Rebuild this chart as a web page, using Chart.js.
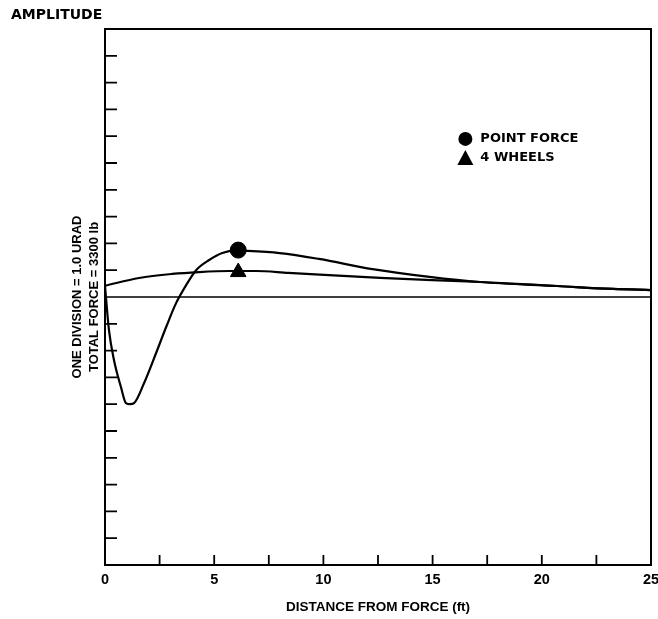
<!DOCTYPE html>
<html>
<head>
<meta charset="utf-8">
<script src="https://cdn.jsdelivr.net/npm/chart.js@4.4.1/dist/chart.umd.min.js"></script>
<style>
  html, body { margin: 0; padding: 0; background: #fff; }
  canvas { display: block; }
</style>
</head>
<body>
<canvas id="grafico" width="658" height="619"></canvas>
<script>
// valores (x em ft, y em divisões de 1.0 urad)
const distPontual = [0, 0.18, 0.41, 0.73, 0.96, 1.15, 1.33, 1.79, 2.34, 2.8, 3.26, 3.72, 4.17, 4.77, 5.37, 6.0, 6.5, 8.0, 9.8, 12.25, 14.86, 17.16, 20.7, 23.26, 25];
const ampPontual = [0.42, -1.23, -2.35, -3.36, -3.96, -4.0, -3.96, -3.21, -2.09, -1.12, -0.22, 0.45, 1.0, 1.38, 1.64, 1.73, 1.72, 1.64, 1.42, 1.04, 0.75, 0.56, 0.41, 0.3, 0.26];

const distRodas = [0, 1.56, 3.07, 4.3, 5.7, 6.9, 8.4, 12.6, 17.2, 20.7, 23.26, 25];
const ampRodas = [0.42, 0.71, 0.86, 0.93, 0.97, 0.97, 0.9, 0.71, 0.56, 0.41, 0.3, 0.26];

const marcadorPontual = { x: 6.1, y: 1.75 };
const marcadorRodas = { x: 6.1, y: 0.93 };

const xTicks = [0, 2.5, 5, 7.5, 10, 12.5, 15, 17.5, 20, 22.5, 25];
const xLabels = ['0', '', '5', '', '10', '', '15', '', '20', '', '25'];

const FONTE = "'Liberation Sans', Arial, sans-serif";
const FONTE_LARGA = "'DejaVu Sans', sans-serif";

function pares(xs, ys) {
    return xs.map((x, i) => ({ x: x, y: ys[i] }));
}

// moldura (topo e direita) + ticks internos
const moldura = {
    id: 'moldura',
    afterDraw(chart) {
        const { ctx, chartArea: a, scales } = chart;
        ctx.save();
        ctx.strokeStyle = '#000';
        ctx.lineWidth = 2;
        ctx.beginPath();
        ctx.moveTo(a.left, a.top);
        ctx.lineTo(a.right, a.top);
        ctx.lineTo(a.right, a.bottom);
        ctx.stroke();

        ctx.lineWidth = 1.8;
        ctx.beginPath();
        scales.x.ticks.forEach(t => {
            const px = scales.x.getPixelForValue(t.value);
            if (px <= a.left + 1 || px >= a.right - 1) return;
            ctx.moveTo(px, a.bottom);
            ctx.lineTo(px, a.bottom - 10);
        });
        scales.y.ticks.forEach(t => {
            const py = scales.y.getPixelForValue(t.value);
            if (py <= a.top + 1 || py >= a.bottom - 1 || t.value === 0) return;
            ctx.moveTo(a.left, py);
            ctx.lineTo(a.left + 12, py);
        });
        ctx.stroke();

        // rótulo AMPLITUDE
        ctx.fillStyle = '#000';
        ctx.font = "bold 14px " + FONTE_LARGA;
        ctx.textBaseline = 'middle';
        ctx.textAlign = 'left';
        ctx.fillText('AMPLITUDE', 11, 15);

        // legenda dentro do gráfico
        const itens = chart.data.datasets.filter(d => d.legenda);
        const lx = scales.x.getPixelForValue(16.5);
        let ly = scales.y.getPixelForValue(5.9);
        ctx.font = "bold 13px " + FONTE_LARGA;
        itens.forEach(d => {
            ctx.beginPath();
            if (d.pointStyle === 'triangle') {
                ctx.moveTo(lx, ly - 8);
                ctx.lineTo(lx + 8, ly + 7);
                ctx.lineTo(lx - 8, ly + 7);
                ctx.closePath();
            } else {
                ctx.arc(lx, ly, 7, 0, Math.PI * 2);
            }
            ctx.fill();
            ctx.fillText(d.label, lx + 15, ly);
            ly += 19;
        });
        ctx.restore();
    }
};

new Chart(document.getElementById('grafico'), {
    type: 'scatter',
    data: {
        datasets: [
            {
                label: 'zero',
                data: [{ x: 0, y: 0 }, { x: 25, y: 0 }],
                showLine: true,
                borderColor: '#000',
                borderWidth: 1.5,
                pointRadius: 0
            },
            {
                label: 'curva pontual',
                data: pares(distPontual, ampPontual),
                showLine: true,
                borderColor: '#000',
                borderWidth: 2.2,
                pointRadius: 0,
                cubicInterpolationMode: 'monotone'
            },
            {
                label: 'curva rodas',
                data: pares(distRodas, ampRodas),
                showLine: true,
                borderColor: '#000',
                borderWidth: 2.2,
                pointRadius: 0,
                cubicInterpolationMode: 'monotone'
            },
            {
                label: 'POINT FORCE',
                legenda: true,
                data: [marcadorPontual],
                pointStyle: 'circle',
                pointRadius: 8,
                backgroundColor: '#000',
                borderColor: '#000'
            },
            {
                label: '4 WHEELS',
                legenda: true,
                data: [marcadorRodas],
                pointStyle: 'triangle',
                pointRadius: 9,
                backgroundColor: '#000',
                borderColor: '#000'
            }
        ]
    },
    options: {
        responsive: false,
        animation: false,
        layout: { autoPadding: false, padding: { left: 0, top: 29, right: 7, bottom: 0 } },
        plugins: {
            legend: { display: false },
            tooltip: { enabled: false }
        },
        scales: {
            x: {
                type: 'linear',
                min: 0,
                max: 25,
                afterBuildTicks: s => { s.ticks = xTicks.map(v => ({ value: v })); },
                afterFit: s => { s.height = 54; s.paddingLeft = 0; s.paddingRight = 0; },
                grid: { display: false, drawTicks: false },
                border: { display: true, color: '#000', width: 2 },
                ticks: {
                    color: '#000',
                    padding: 6,
                    maxRotation: 0,
                    autoSkip: false,
                    font: { family: FONTE, size: 14.5, weight: 'bold' },
                    callback: (v, i) => xLabels[i]
                },
                title: {
                    display: true,
                    text: 'DISTANCE FROM FORCE (ft)',
                    color: '#000',
                    font: { family: FONTE, size: 13.5, weight: 'bold' },
                    padding: { top: 0, bottom: 4 }
                }
            },
            y: {
                type: 'linear',
                min: -10,
                max: 10,
                afterFit: s => { s.width = 105; },
                grid: { display: false, drawTicks: false },
                border: { display: true, color: '#000', width: 2 },
                ticks: { display: false, stepSize: 1 },
                title: {
                    display: true,
                    text: ['ONE DIVISION = 1.0 URAD', 'TOTAL FORCE = 3300 lb'],
                    color: '#000',
                    font: { family: FONTE, size: 13, weight: 'bold', lineHeight: 1.3 },
                    padding: { top: 69, bottom: 0 }
                }
            }
        }
    },
    plugins: [moldura]
});
</script>
</body>
</html>
